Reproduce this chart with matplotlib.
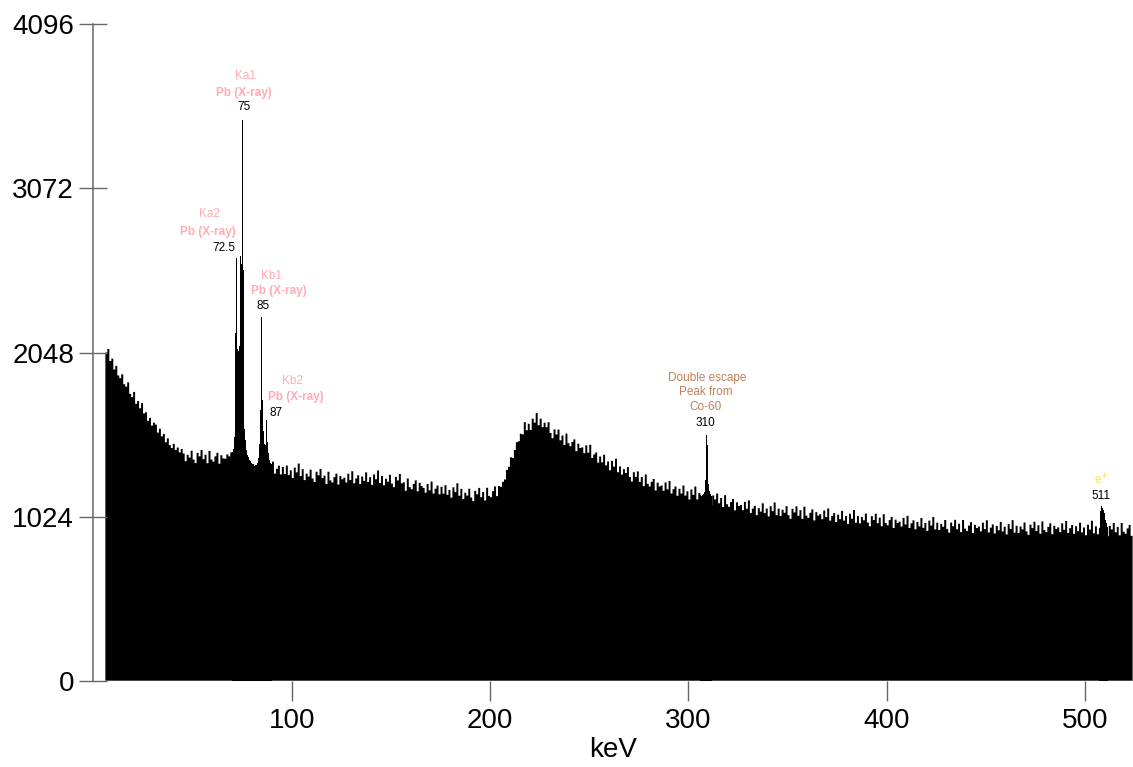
import numpy as np
import matplotlib.pyplot as plt

plt.rcParams['font.family'] = ['Liberation Sans', 'DejaVu Sans']

# continuum, one value per 1 keV channel, first channel at 6 keV
first_kev = 6
counts = [
    2048, 2070, 1995, 2010, 1942, 1965, 1905, 1888, 1912, 1850,
    1835, 1862, 1790, 1770, 1802, 1728, 1745, 1700, 1732, 1668,
    1675, 1622, 1640, 1592, 1610, 1598, 1548, 1572, 1525, 1540,
    1488, 1512, 1470, 1452, 1478, 1440, 1455, 1425, 1446, 1418,
    1370, 1410, 1392, 1435, 1380, 1358, 1422, 1400, 1440, 1382,
    1410, 1357, 1434, 1380, 1367, 1400, 1422, 1354, 1407, 1387,
    1385, 1412, 1400, 1425, 1405, 1395, 1390, 1385, 1380, 1375,
    1370, 1365, 1360, 1352, 1345, 1338, 1332, 1330, 1335, 1330,
    1327, 1297, 1352, 1312, 1367, 1292, 1322, 1342, 1287, 1334,
    1290, 1343, 1283, 1313, 1265, 1330, 1300, 1355, 1277, 1320,
    1252, 1292, 1274, 1317, 1262, 1240, 1304, 1282, 1322, 1264,
    1280, 1227, 1304, 1250, 1237, 1270, 1292, 1224, 1277, 1257,
    1267, 1237, 1292, 1252, 1307, 1232, 1262, 1282, 1227, 1274,
    1247, 1300, 1240, 1270, 1222, 1287, 1257, 1312, 1234, 1277,
    1220, 1260, 1242, 1285, 1230, 1208, 1272, 1250, 1290, 1232,
    1238, 1185, 1262, 1208, 1195, 1228, 1250, 1182, 1235, 1215,
    1203, 1173, 1228, 1188, 1243, 1168, 1198, 1218, 1163, 1210,
    1167, 1220, 1160, 1190, 1142, 1207, 1177, 1232, 1154, 1197,
    1133, 1173, 1155, 1198, 1143, 1121, 1185, 1163, 1203, 1145,
    1178, 1125, 1204, 1153, 1145, 1183, 1212, 1152, 1215, 1210,
    1241, 1256, 1315, 1335, 1394, 1390, 1440, 1488, 1494, 1541,
    1537, 1613, 1563, 1603, 1565, 1635, 1610, 1670, 1594, 1635,
    1582, 1610, 1582, 1613, 1546, 1513, 1568, 1536, 1567, 1500,
    1530, 1471, 1542, 1482, 1463, 1490, 1506, 1432, 1479, 1452,
    1456, 1420, 1469, 1423, 1472, 1390, 1412, 1424, 1361, 1399,
    1363, 1410, 1344, 1368, 1313, 1372, 1336, 1385, 1301, 1337,
    1286, 1320, 1296, 1333, 1271, 1243, 1301, 1272, 1306, 1241,
    1271, 1214, 1287, 1229, 1212, 1241, 1259, 1187, 1236, 1212,
    1218, 1185, 1237, 1194, 1246, 1168, 1195, 1212, 1154, 1198,
    1168, 1218, 1155, 1182, 1131, 1193, 1160, 1212, 1131, 1171,
    1122, 1159, 1138, 1178, 1120, 1095, 1156, 1131, 1168, 1107,
    1140, 1084, 1158, 1101, 1085, 1115, 1134, 1063, 1113, 1090,
    1097, 1064, 1116, 1073, 1125, 1047, 1074, 1091, 1033, 1077,
    1055, 1107, 1046, 1074, 1025, 1089, 1058, 1112, 1033, 1074,
    1028, 1067, 1048, 1089, 1033, 1010, 1073, 1050, 1088, 1029,
    1064, 1010, 1086, 1030, 1016, 1048, 1069, 1000, 1052, 1030,
    1039, 1008, 1062, 1021, 1075, 999, 1028, 1046, 990, 1036,
    1008, 1060, 999, 1028, 979, 1042, 1011, 1065, 986, 1028,
    982, 1021, 1001, 1043, 987, 964, 1027, 1003, 1042, 983,
    1018, 964, 1039, 984, 970, 1002, 1022, 953, 1005, 984,
    993, 962, 1016, 975, 1029, 953, 982, 1001, 945, 991,
    963, 1015, 954, 984, 935, 999, 968, 1022, 944, 986,
    940, 979, 960, 1003, 947, 924, 987, 964, 1004, 945,
    980, 927, 1003, 949, 935, 968, 989, 921, 973, 953,
    962, 932, 986, 946, 1001, 925, 955, 975, 919, 966,
    939, 991, 931, 961, 913, 977, 947, 1002, 924, 967,
    922, 962, 944, 987, 932, 910, 974, 952, 992, 934,
    970, 917, 994, 940, 927, 960, 982, 914, 967, 947,
    957, 927, 982, 942, 997, 922, 952, 972, 917, 964,
    933, 986, 926, 956, 908, 973, 943, 998, 920, 963,
    914, 954, 936, 979, 924, 902, 966, 944, 984, 926,
    960, 907, 984, 930, 917, 950, 972, 904,
]

# sharp lines, 0.5 keV channels
fine_step = 0.5
pb_start = 70.0
pb_counts = [
    1425, 1445, 1520, 2170, 2640, 2070, 2060, 2090, 2650, 2600,
    3500, 2560, 1570, 1500, 1440, 1410, 1395, 1380, 1372, 1360,
    1355, 1350, 1340, 1345, 1345, 1360, 1390, 1480, 1690, 2270,
    1750, 1560, 1480, 1470, 1625, 1490, 1420, 1380, 1360, 1350,
]
esc_start = 306.0
esc_counts = [1160, 1150, 1158, 1165, 1180, 1255, 1533, 1470, 1230, 1185, 1165, 1150]
ann_start = 507.0
ann_counts = [945, 1060, 1090, 1078, 1066, 1045, 1005, 985, 960]

y_ticks = [0, 1024, 2048, 3072, 4096]
x_ticks = [100, 200, 300, 400, 500]

# peak labels: anchor (keV, counts), then (text, colour, bold, dx px, dy px)
pink = '#FFAAB4'
brown = '#C08058'
yellow = '#FFE33A'
labels = [
    ((75.25, 3500), [('75', 'black', False, 1, 13), ('Pb (X-ray)', pink, True, 1, 26.5),
                     ('Ka1', pink, False, 3, 44)]),
    ((72.25, 2640), [('72.5', 'black', False, -13, 10), ('Pb (X-ray)', pink, True, -28.5, 25.3),
                     ('Ka2', pink, False, -27, 43.3)]),
    ((84.75, 2270), [('85', 'black', False, 2, 11.2), ('Pb (X-ray)', pink, True, 17, 26),
                     ('Kb1', pink, False, 10, 41.2)]),
    ((87.25, 1625), [('87', 'black', False, 9.5, 7), ('Pb (X-ray)', pink, True, 29.5, 23),
                     ('Kb2', pink, False, 26, 39.3)]),
    ((309.25, 1533), [('310', 'black', False, -1.7, 12.3), ('Co-60', brown, False, -1.7, 28.3),
                      ('Peak from', brown, False, -1.4, 42.7), ('Double escape', brown, False, 0.6, 57.3)]),
    ((508.25, 1090), [('511', 'black', False, -0.4, 10.2), ('e$^{+}$', yellow, False, 0.3, 26)]),
]

fig = plt.figure(figsize=(11.33, 7.67), dpi=100)
ax = fig.add_axes([0.0825, 0.1125, 0.9175, 0.8558])

edges = first_kev + np.arange(len(counts) + 1)
ax.stairs(counts, edges, fill=True, color='black', lw=0)
for start, vals in [(pb_start, pb_counts), (esc_start, esc_counts), (ann_start, ann_counts)]:
    e = start + fine_step * np.arange(len(vals) + 1)
    ax.stairs(vals, e, fill=True, color='black', lw=0)

for (x, y), lines in labels:
    for txt, col, bold, dx, dy in lines:
        ax.annotate(txt, xy=(x, y), xytext=(dx, dy), textcoords='offset pixels',
                    ha='center', va='center', fontsize=8.5, color=col,
                    fontweight='bold' if bold else 'normal')

ax.set_xlim(0, 524.2)
ax.set_ylim(0, 4096)
ax.set_yticks(y_ticks)
ax.set_xticks(x_ticks)
for s in ['top', 'right', 'bottom']:
    ax.spines[s].set_visible(False)
ax.spines['left'].set_color('#666666')
ax.spines['left'].set_linewidth(1.1)
ax.tick_params(axis='y', direction='inout', length=20, width=1, color='#666666',
               labelsize=20, pad=4)
ax.tick_params(axis='x', direction='out', length=14.4, width=1, color='#666666',
               labelsize=20, pad=5.5)
ax.set_xlabel('keV', fontsize=20, labelpad=2)

fig.savefig('out.png', dpi=100)
